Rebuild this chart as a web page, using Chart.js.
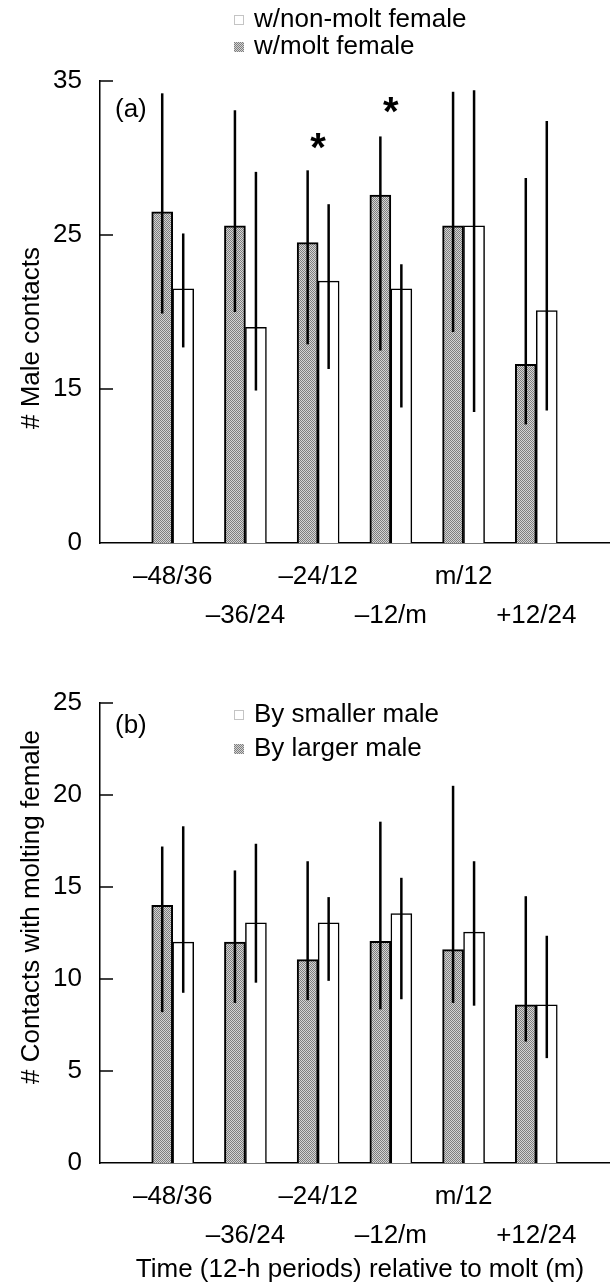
<!DOCTYPE html>
<html>
<head>
<meta charset="utf-8">
<script src="https://cdn.jsdelivr.net/npm/chart.js@4.4.0/dist/chart.umd.min.js"></script>
<style>
  html, body { margin: 0; padding: 0; background: #fff; }
  canvas { display: block; }
</style>
</head>
<body>
<canvas id="chartA" width="613" height="650"></canvas>
<canvas id="chartB" width="613" height="638"></canvas>
<script>
// time periods (12-h) relative to molt
const periods = ['–48/36', '–36/24', '–24/12', '–12/m', 'm/12', '+12/24'];

// panel (a): # male contacts
const yTicksA = ['0', '15', '25', '35'];
const moltA = [26.5, 25.6, 24.5, 27.6, 25.6, 16.6];
const moltHiA = [34.2, 33.1, 29.2, 31.4, 34.3, 28.7];
const moltLoA = [19.9, 20.0, 17.9, 17.5, 18.7, 12.7];
const nonMoltA = [21.5, 19.0, 22.0, 21.5, 25.6, 20.1];
const nonMoltHiA = [25.1, 29.1, 27.0, 23.1, 34.4, 32.4];
const nonMoltLoA = [17.7, 14.9, 16.3, 13.8, 13.5, 13.6];
const starsA = [null, null, 31.0, 33.3, null, null];

// panel (b): contacts with molting female
const yTicksB = ['0', '5', '10', '15', '20', '25'];
const largerB = [14.0, 12.0, 11.05, 12.05, 11.6, 8.6];
const largerHiB = [17.2, 15.9, 16.4, 18.55, 20.5, 14.5];
const largerLoB = [8.2, 8.7, 8.85, 8.35, 8.7, 6.6];
const smallerB = [12.0, 13.05, 13.05, 13.55, 12.55, 8.6];
const smallerHiB = [18.3, 17.35, 14.45, 15.5, 16.4, 12.35];
const smallerLoB = [9.25, 9.8, 9.9, 8.9, 8.55, 5.7];

const FONT = "'Liberation Sans', Arial, Helvetica, sans-serif";
const FS = 26;

// stippled gray fill like the halftone in the print
function makeStipple(){
  const c = document.createElement('canvas');
  c.width = 4; c.height = 4;
  const g = c.getContext('2d');
  g.fillStyle = '#d4d4d4';
  g.fillRect(0, 0, 4, 4);
  g.fillStyle = '#7e7e7e';
  for (let y = 0; y < 4; y++){
    for (let x = 0; x < 4; x++){
      if ((x + y) % 2 === 0) g.fillRect(x, y, 1, 1);
    }
  }
  return g.createPattern(c, 'repeat');
}
const stipple = makeStipple();

const decor = {
  id: 'decor',
  afterDatasetsDraw(chart){
    const o = chart.options.plugins.decor;
    const ctx = chart.ctx;
    const y = chart.scales.y;
    ctx.save();
    ctx.strokeStyle = '#000';
    ctx.lineWidth = 2.5;
    o.errors.forEach((err, di) => {
      const bars = chart.getDatasetMeta(di).data;
      err.hi.forEach((hi, i) => {
        const bar = bars[i + 1];
        ctx.beginPath();
        ctx.moveTo(bar.x, y.getPixelForValue(err.lo[i]));
        ctx.lineTo(bar.x, y.getPixelForValue(hi));
        ctx.stroke();
      });
    });
    ctx.restore();
  },
  afterDraw(chart){
    const o = chart.options.plugins.decor;
    const ctx = chart.ctx;
    const x = chart.scales.x, y = chart.scales.y;
    const area = chart.chartArea;
    ctx.save();
    // inward tick marks
    ctx.strokeStyle = '#000';
    ctx.lineWidth = 1.5;
    y.ticks.forEach(t => {
      if (t.value === y.min) return;
      const py = y.getPixelForValue(t.value);
      ctx.beginPath();
      ctx.moveTo(area.left, py);
      ctx.lineTo(area.left + 13, py);
      ctx.stroke();
    });
    ctx.fillStyle = '#000';
    ctx.textBaseline = 'middle';
    ctx.textAlign = 'left';
    ctx.font = FS + 'px ' + FONT;
    ctx.fillText(o.letter, 115, o.letterY);
    // legend
    o.legend.forEach((row, i) => {
      const ly = o.legendY[i];
      if (row.shaded){
        ctx.fillStyle = stipple;
        ctx.fillRect(234, ly - 5, 10, 10);
      } else {
        ctx.setLineDash([1, 1]);
        ctx.strokeStyle = '#888';
        ctx.lineWidth = 1;
        ctx.strokeRect(234.5, ly - 4.5, 9, 9);
        ctx.setLineDash([]);
      }
      ctx.fillStyle = '#000';
      ctx.fillText(row.text, 254, ly);
    });
    // significance stars
    if (o.stars){
      ctx.font = 'bold 40px ' + FONT;
      ctx.textAlign = 'center';
      ctx.textBaseline = 'alphabetic';
      o.stars.forEach((s, i) => {
        if (s === null) return;
        ctx.fillText('*', x.getPixelForValue(i + 1), y.getPixelForValue(s) + 18);
      });
    }
    // axis titles
    ctx.font = FS + 'px ' + FONT;
    ctx.textAlign = 'center';
    ctx.textBaseline = 'middle';
    ctx.save();
    ctx.translate(32, o.yTitleY);
    ctx.rotate(-Math.PI / 2);
    ctx.fillText(o.yTitle, 0, 0);
    ctx.restore();
    if (o.xTitle) ctx.fillText(o.xTitle, 360, o.xTitleY);
    ctx.restore();
  }
};

function buildChart(id, o){
  const labels = [''].concat(periods.map((p, i) => i % 2 === 0 ? [p, ''] : ['', p])).concat(['']);
  const pad = v => [null].concat(v).concat([null]);
  return new Chart(document.getElementById(id), {
    type: 'bar',
    data: {
      labels,
      datasets: [
        { label: o.legend[1].text, data: pad(o.shaded), base: o.min, backgroundColor: stipple,
          borderColor: '#000', borderWidth: 2, barThickness: 21 },
        { label: o.legend[0].text, data: pad(o.white), base: o.min, backgroundColor: '#fff',
          borderColor: '#000', borderWidth: 1.5, barThickness: 21 }
      ]
    },
    options: {
      responsive: false,
      animation: false,
      devicePixelRatio: 1,
      layout: { padding: { top: o.top, right: 4, left: 0, bottom: 0 } },
      plugins: { legend: { display: false }, tooltip: { enabled: false }, decor: o },
      scales: {
        x: {
          offset: false,
          grid: { display: false, drawTicks: false },
          border: { color: '#000', width: 1.5 },
          ticks: { autoSkip: false, maxRotation: 0, minRotation: 0, padding: 14, color: '#000',
                   font: { family: FONT, size: FS, lineHeight: 1.5 } },
          afterFit: s => { s.height = o.xh; s.paddingLeft = 0; s.paddingRight = 0; }
        },
        y: {
          min: o.min, max: o.max,
          grid: { display: false, drawTicks: false },
          border: { color: '#000', width: 1.5 },
          ticks: { stepSize: o.step, padding: 18, color: '#000',
                   font: { family: FONT, size: FS },
                   callback: (v, i) => o.tickLabels[i] },
          afterFit: s => { s.width = 100; }
        }
      }
    },
    plugins: [decor]
  });
}

buildChart('chartA', {
  min: 5, max: 35, step: 10, tickLabels: yTicksA, top: 81, xh: 107,
  shaded: moltA, white: nonMoltA,
  errors: [{ hi: moltHiA, lo: moltLoA }, { hi: nonMoltHiA, lo: nonMoltLoA }],
  stars: starsA,
  letter: '(a)', letterY: 110,
  legend: [{ text: 'w/non-molt female', shaded: false }, { text: 'w/molt female', shaded: true }],
  legendY: [20, 47],
  yTitle: '# Male contacts', yTitleY: 338
});

buildChart('chartB', {
  min: 0, max: 25, step: 5, tickLabels: yTicksB, top: 53, xh: 125,
  shaded: largerB, white: smallerB,
  errors: [{ hi: largerHiB, lo: largerLoB }, { hi: smallerHiB, lo: smallerLoB }],
  stars: null,
  letter: '(b)', letterY: 76,
  legend: [{ text: 'By smaller male', shaded: false }, { text: 'By larger male', shaded: true }],
  legendY: [65, 99],
  yTitle: '# Contacts with molting female', yTitleY: 257,
  xTitle: 'Time (12-h periods) relative to molt (m)', xTitleY: 620
});
</script>
</body>
</html>
